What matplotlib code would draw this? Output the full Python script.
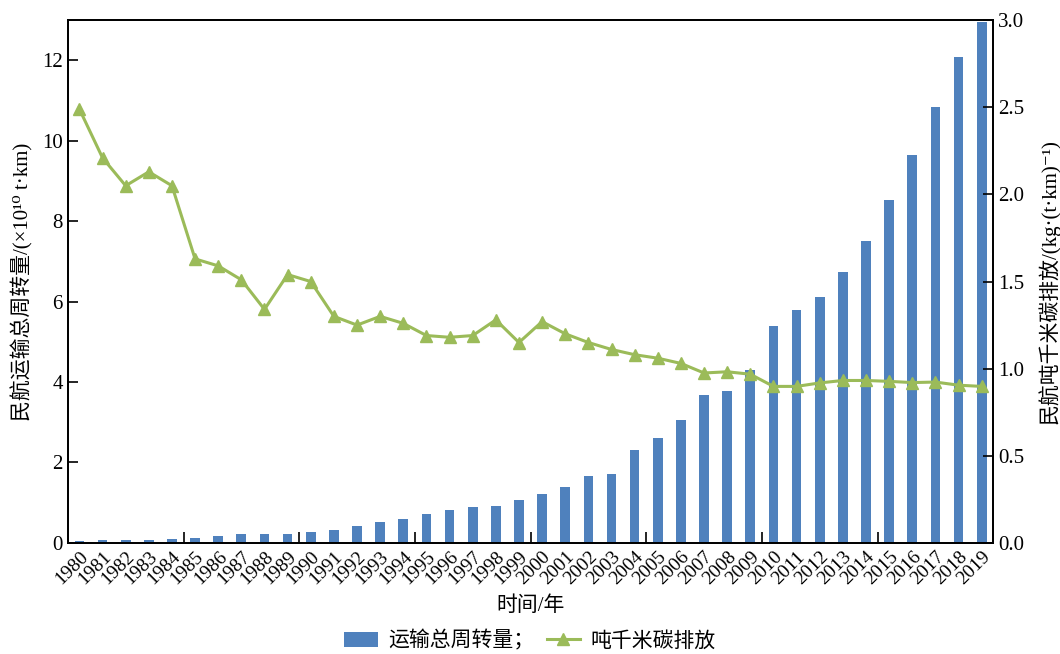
import numpy as np
import matplotlib
matplotlib.use('Agg')
import matplotlib.pyplot as plt
from matplotlib.ticker import FixedLocator

plt.rcParams['font.family'] = ['Liberation Serif', 'Noto Sans CJK SC', 'DejaVu Serif']

# data
years = list(range(1980, 2020))
turnover = [0.04, 0.06, 0.06, 0.07, 0.09, 0.12, 0.16, 0.21, 0.22, 0.21,
            0.26, 0.32, 0.42, 0.51, 0.60, 0.71, 0.81, 0.88, 0.92, 1.06,
            1.22, 1.40, 1.65, 1.70, 2.31, 2.61, 3.06, 3.67, 3.78, 4.29,
            5.40, 5.78, 6.12, 6.73, 7.50, 8.54, 9.64, 10.85, 12.08, 12.95]
carbon = [2.49, 2.21, 2.05, 2.13, 2.05, 1.63, 1.59, 1.51, 1.34, 1.54,
          1.50, 1.30, 1.25, 1.30, 1.26, 1.19, 1.18, 1.19, 1.28, 1.15,
          1.27, 1.20, 1.15, 1.11, 1.08, 1.06, 1.03, 0.975, 0.982, 0.968,
          0.898, 0.898, 0.918, 0.932, 0.932, 0.927, 0.920, 0.923, 0.905, 0.898]

bar_color = '#4F81BD'
line_color = '#9BBB59'

fig = plt.figure(figsize=(10.6, 6.54), dpi=100)
ax = fig.add_axes([0.064, 0.170, 0.873, 0.799])
ax2 = ax.twinx()

x = np.arange(len(years))
bars = ax.bar(x, turnover, width=0.42, color=bar_color, zorder=2)
line, = ax2.plot(x, carbon, color=line_color, lw=2.2, marker='^',
                 markersize=8, zorder=3)

ax.set_xlim(-0.5, len(years) - 0.5)
ax.set_ylim(0, 13.0)
ax2.set_ylim(0, 3.0)

ax.set_yticks(range(0, 13, 2))
ax2.set_yticks(np.arange(0, 3.01, 0.5))
ax2.set_yticklabels([f'{v:.1f}' for v in np.arange(0, 3.01, 0.5)])

ax.set_xticks(x)
ax.set_xticklabels([str(y) for y in years], rotation=45, ha='right',
                   rotation_mode='anchor', fontsize=14)
ax.tick_params(axis='x', which='major', length=0, pad=4)
ax.xaxis.set_minor_locator(FixedLocator([4.5, 9.5, 14.5, 19.5, 24.5, 29.5, 34.5]))
ax.tick_params(axis='x', which='minor', direction='in', length=8, width=1.2)
ax.tick_params(axis='y', direction='in', length=7, width=1.2, labelsize=15)
ax2.tick_params(axis='y', direction='in', length=7, width=1.2, labelsize=15)

for a in (ax, ax2):
    for s in a.spines.values():
        s.set_linewidth(1.3)
        s.set_color('black')

ax.set_ylabel('民航运输总周转量/(×10¹⁰ t·km)', fontsize=15, labelpad=6)
ax2.set_ylabel('民航吨千米碳排放/(kg·(t·km)⁻¹)', fontsize=15, labelpad=10)
ax.set_xlabel('时间/年', fontsize=15, labelpad=6)

fig.legend([bars, line], ['运输总周转量；', '吨千米碳排放'], loc='lower center',
           bbox_to_anchor=(0.5, -0.025), ncol=2, frameon=False, fontsize=15,
           handlelength=1.6, columnspacing=0.6, handletextpad=0.5)

fig.savefig('out.png', dpi=100)
